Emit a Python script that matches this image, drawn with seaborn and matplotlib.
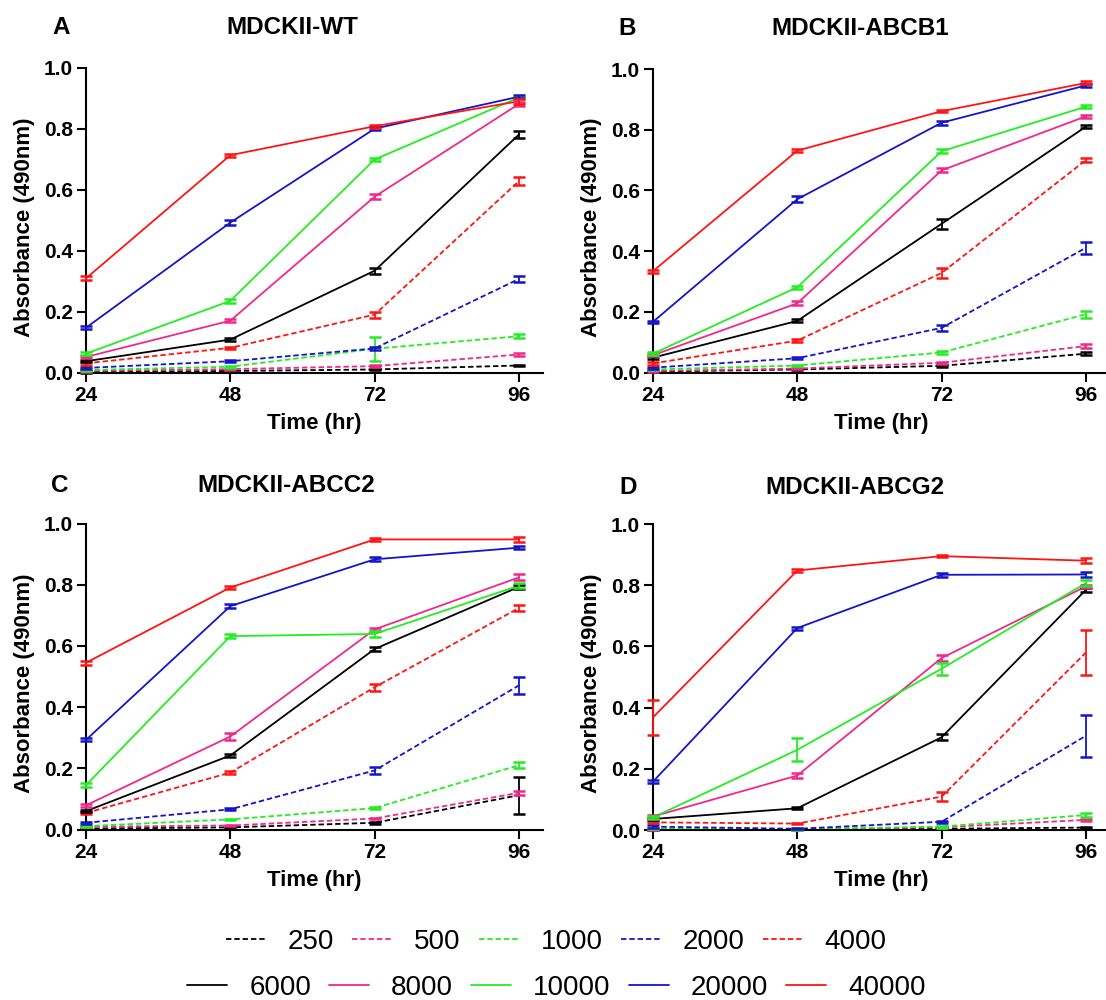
import numpy as np
import pandas as pd
import matplotlib
matplotlib.use("Agg")
import matplotlib.pyplot as plt
from matplotlib.lines import Line2D
from matplotlib.ticker import FormatStrFormatter
import seaborn as sns

sns.set_style("ticks")
plt.rcParams["font.family"] = ["Liberation Sans", "DejaVu Sans"]
plt.rcParams.update({"text.color": "black", "axes.labelcolor": "black",
                     "axes.edgecolor": "black", "xtick.color": "black",
                     "ytick.color": "black"})

# Seeding densities (cells/well) and time points (hr)
densities = [250, 500, 1000, 2000, 4000, 6000, 8000, 10000, 20000, 40000]
times = [24, 48, 72, 96]
panel_letters = ["A", "B", "C", "D"]
cell_lines = ["MDCKII-WT", "MDCKII-ABCB1", "MDCKII-ABCC2", "MDCKII-ABCG2"]

# Mean absorbance at 490 nm, one row per seeding density
wt_mean = [
    [0.002, 0.005, 0.010, 0.023],
    [0.005, 0.011, 0.021, 0.059],
    [0.008, 0.019, 0.078, 0.119],
    [0.015, 0.037, 0.079, 0.307],
    [0.030, 0.081, 0.190, 0.628],
    [0.037, 0.108, 0.334, 0.781],
    [0.051, 0.170, 0.577, 0.881],
    [0.062, 0.235, 0.699, 0.902],
    [0.147, 0.492, 0.800, 0.905],
    [0.309, 0.713, 0.808, 0.890],
]
wt_err = [
    [0.002, 0.002, 0.002, 0.003],
    [0.002, 0.002, 0.003, 0.004],
    [0.002, 0.003, 0.040, 0.006],
    [0.003, 0.003, 0.006, 0.010],
    [0.004, 0.004, 0.010, 0.012],
    [0.004, 0.005, 0.010, 0.012],
    [0.004, 0.005, 0.008, 0.008],
    [0.004, 0.006, 0.005, 0.006],
    [0.004, 0.008, 0.005, 0.005],
    [0.006, 0.005, 0.005, 0.008],
]

abcb1_mean = [
    [0.003, 0.010, 0.022, 0.062],
    [0.005, 0.013, 0.032, 0.087],
    [0.010, 0.023, 0.066, 0.192],
    [0.016, 0.047, 0.147, 0.411],
    [0.030, 0.105, 0.328, 0.700],
    [0.049, 0.170, 0.490, 0.810],
    [0.057, 0.228, 0.666, 0.844],
    [0.062, 0.281, 0.729, 0.876],
    [0.167, 0.571, 0.823, 0.946],
    [0.334, 0.731, 0.861, 0.954],
]
abcb1_err = [
    [0.002, 0.002, 0.003, 0.004],
    [0.002, 0.002, 0.003, 0.006],
    [0.003, 0.003, 0.005, 0.012],
    [0.003, 0.004, 0.010, 0.020],
    [0.004, 0.004, 0.015, 0.008],
    [0.004, 0.005, 0.017, 0.005],
    [0.004, 0.007, 0.007, 0.005],
    [0.004, 0.005, 0.006, 0.005],
    [0.004, 0.009, 0.006, 0.004],
    [0.005, 0.004, 0.004, 0.005],
]

abcc2_mean = [
    [0.003, 0.007, 0.022, 0.112],
    [0.009, 0.013, 0.036, 0.120],
    [0.011, 0.033, 0.070, 0.210],
    [0.022, 0.066, 0.193, 0.471],
    [0.054, 0.186, 0.465, 0.724],
    [0.060, 0.242, 0.590, 0.793],
    [0.079, 0.304, 0.654, 0.824],
    [0.145, 0.632, 0.639, 0.797],
    [0.293, 0.730, 0.883, 0.921],
    [0.545, 0.791, 0.948, 0.948],
]
abcc2_err = [
    [0.002, 0.002, 0.003, 0.060],
    [0.002, 0.002, 0.003, 0.007],
    [0.002, 0.002, 0.004, 0.010],
    [0.003, 0.003, 0.012, 0.028],
    [0.004, 0.006, 0.012, 0.010],
    [0.004, 0.006, 0.006, 0.006],
    [0.005, 0.010, 0.006, 0.010],
    [0.006, 0.006, 0.010, 0.008],
    [0.005, 0.006, 0.006, 0.004],
    [0.006, 0.005, 0.005, 0.008],
]

abcg2_mean = [
    [0.002, 0.002, 0.004, 0.008],
    [0.003, 0.002, 0.009, 0.033],
    [0.005, 0.003, 0.011, 0.049],
    [0.011, 0.004, 0.027, 0.308],
    [0.025, 0.021, 0.109, 0.580],
    [0.036, 0.071, 0.303, 0.785],
    [0.044, 0.178, 0.562, 0.796],
    [0.041, 0.262, 0.527, 0.807],
    [0.158, 0.660, 0.834, 0.835],
    [0.368, 0.848, 0.895, 0.880],
]
abcg2_err = [
    [0.002, 0.002, 0.002, 0.002],
    [0.002, 0.002, 0.002, 0.003],
    [0.002, 0.002, 0.003, 0.005],
    [0.004, 0.002, 0.003, 0.068],
    [0.003, 0.003, 0.015, 0.072],
    [0.003, 0.003, 0.010, 0.006],
    [0.005, 0.008, 0.010, 0.006],
    [0.004, 0.038, 0.020, 0.010],
    [0.006, 0.005, 0.006, 0.008],
    [0.057, 0.006, 0.004, 0.009],
]

means = [wt_mean, abcb1_mean, abcc2_mean, abcg2_mean]
errs = [wt_err, abcb1_err, abcc2_err, abcg2_err]

# Colours repeat across the dashed (low) and solid (high) density groups
base_colors = ["#000000", "#F0288C", "#22EE22", "#1414C8", "#FF1414"]
palette = {str(d): base_colors[i % 5] for i, d in enumerate(densities)}
dash_pat = (3.0, 1.6)
dashes = {str(d): (dash_pat if i < 5 else "") for i, d in enumerate(densities)}

rows = []
for p, cl in enumerate(cell_lines):
    for i, d in enumerate(densities):
        for j, t in enumerate(times):
            rows.append({"cell_line": cl, "density": str(d), "time": t,
                         "absorbance": means[p][i][j], "sem": errs[p][i][j]})
df = pd.DataFrame(rows)

fig = plt.figure(figsize=(11.06, 10.0), dpi=100)

# axes boxes in figure fractions: left, bottom, width, height
boxes = [
    [0.0778, 0.6275, 0.4132, 0.3048],
    [0.5904, 0.6275, 0.4132, 0.3035],
    [0.0778, 0.1705, 0.4132, 0.3060],
    [0.5904, 0.1700, 0.4132, 0.3060],
]
# title centres / baselines and panel letter positions (figure fractions)
title_pos = [(0.264, 0.966), (0.778, 0.965), (0.259, 0.508), (0.773, 0.506)]
letter_x = [0.055, 0.567, 0.054, 0.568]

bold = dict(fontweight="bold")
for p, cl in enumerate(cell_lines):
    ax = fig.add_axes(boxes[p])
    sub = df[df["cell_line"] == cl]
    sns.lineplot(data=sub, x="time", y="absorbance", hue="density",
                 style="density", palette=palette, dashes=dashes,
                 hue_order=[str(d) for d in densities],
                 style_order=[str(d) for d in densities],
                 errorbar=None, legend=False, linewidth=1.3, ax=ax)
    for d in densities:
        s = sub[sub["density"] == str(d)]
        ax.errorbar(s["time"], s["absorbance"], yerr=s["sem"], fmt="none",
                    ecolor=palette[str(d)], elinewidth=1.3, capsize=4.5,
                    capthick=1.8, zorder=3, clip_on=False)
    ax.set_xlim(24, 100)
    ax.set_ylim(0, 1.0)
    ax.set_xticks(times)
    ax.set_yticks([0.0, 0.2, 0.4, 0.6, 0.8, 1.0])
    ax.yaxis.set_major_formatter(FormatStrFormatter("%.1f"))
    for lab in ax.get_xticklabels() + ax.get_yticklabels():
        lab.set_fontweight("bold")
        lab.set_fontsize(15)
    ax.tick_params(axis="both", direction="out", length=6.2, width=1.5,
                   pad=3.3)
    sns.despine(ax=ax)
    for sp in ("left", "bottom"):
        ax.spines[sp].set_linewidth(1.5)
    ax.set_xlabel("Time (hr)", fontsize=16, **bold)
    ax.set_ylabel("Absorbance (490nm)", fontsize=16, **bold)
    ax.xaxis.set_label_coords(0.5, -0.132)
    ax.yaxis.set_label_coords(-0.112, 0.478)
    fig.text(title_pos[p][0], title_pos[p][1], cl, fontsize=17.5,
             ha="center", va="baseline", **bold)
    fig.text(letter_x[p], title_pos[p][1], panel_letters[p], fontsize=17.5,
             ha="center", va="baseline", **bold)
    ax.set_facecolor("white")

# Legend: dashed low densities on the first row, solid high densities below
def handle(i):
    return Line2D([], [], color=base_colors[i % 5], lw=1.3,
                  linestyle=(0, dash_pat) if i < 5 else "-")

for r in range(2):
    idx = range(5 * r, 5 * r + 5)
    fig.legend([handle(i) for i in idx], [str(densities[i]) for i in idx],
               loc="center", bbox_to_anchor=(0.503, 0.058 - 0.046 * r),
               ncol=5, frameon=False, fontsize=20, handlelength=1.44,
               handletextpad=0.79, columnspacing=0.65, borderpad=0.1)

fig.savefig("out.png", dpi=100, facecolor="white")
